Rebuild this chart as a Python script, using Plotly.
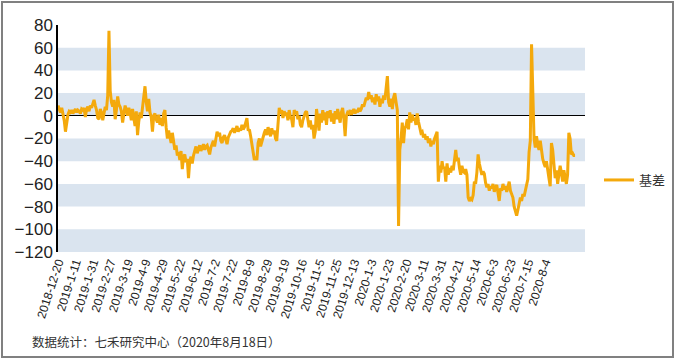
import plotly.graph_objects as go

# Tick labels (every 14th trading day)
tick_labels = ["2018-12-20", "2019-1-11", "2019-1-31", "2019-2-27", "2019-3-19", "2019-4-9",
               "2019-4-29", "2019-5-22", "2019-6-12", "2019-7-2", "2019-7-22", "2019-8-9",
               "2019-8-29", "2019-9-19", "2019-10-16", "2019-11-5", "2019-11-25", "2019-12-13",
               "2020-1-3", "2020-1-23", "2020-2-20", "2020-3-11", "2020-3-31", "2020-4-21",
               "2020-5-14", "2020-6-3", "2020-6-23", "2020-7-15", "2020-8-4"]
tick_step = 14

# 基差 values (one per trading day, 2018-12-20 .. 2020-8-18)
basis = [
    9, 6, 3, 7, 2, -4, -14, -6, 1, 4,
    3, 5, 2, 4, 6, 3, 5, 4, 2, 6,
    5, 7, -1, 6, 8, 4, 9, 7, 12, 14,
    9, 5, -2, -3, 6, 3, -4, 2, 8, 5,
    18, 75, 22, 12, 8, 14, -3, 5, 17, 10,
    8, 4, -6, 2, 9, 5, 0, 7, 3, -4,
    6, -2, -9, 4, -17, -5, 3, -2, 8, 13,
    26, 12, 4, 15, 3, -1, -14, 0, 2, -3,
    -6, 1, -8, -2, -9, 2, 5, -10, -20, -13,
    -18, -24, -15, -22, -30, -26, -35, -32, -39, -31,
    -47, -36, -34, -41, -38, -55, -40, -36, -42, -35,
    -30, -27, -33, -29, -26, -31, -28, -25, -30, -27,
    -26, -31, -34, -28, -25, -22, -27, -20, -14, -18,
    -15, -22, -24, -19, -17, -21, -25, -19, -16, -14,
    -13, -11, -15, -12, -9, -14, -11, -13, -8, -12,
    -10, -6, -2, -13, -12, -18, -25, -33, -39, -36,
    -39, -24, -20, -27, -22, -19, -15, -12, -17, -10,
    -14, -18, -11, -16, -13, -20, -22, -4, 7, 2,
    5, -2, 4, 0, 3, -4, 5, -1, -3, -10,
    5, 2, 4, -3, 0, -8, -10, -4, -1, 3,
    4, -5, -10, -4, -12, -8, -20, -14, 6, -3,
    -13, 2, -6, 5, -4, 3, -8, 4, -2, 5,
    -5, 2, -7, 4, -3, 6, -1, -6, 3, 7,
    -2, -18, 0, 3, 2, 5, 1, 4, 6, 2,
    5, 3, 7, 4, 6, 10, 8, 12, 16, 14,
    21, 15, 18, 12, 16, 10, 19, 13, 17, 8,
    15, 11, 18, 14, 24, 35, 12, 8, 15, 6,
    16, 20, 12, 5, -97, -30, -20, -6, -24, -11,
    -9, -3, -12, 3, -6, 1, -4, -2, -8, 2,
    -5, -9, -15, -14, -19, -16, -21, -18, -24, -20,
    -27, -22, -25, -20, -16, -14, -58, -44, -50, -40,
    -47, -45, -58, -42, -52, -46, -50, -44, -48, -36,
    -30, -40, -37, -46, -52, -44, -49, -50, -47, -52,
    -72, -75, -73, -74, -70, -58, -60, -50, -34, -42,
    -47, -52, -49, -51, -59, -63, -60, -66, -62, -64,
    -60, -67, -63, -61, -68, -75, -64, -66, -60, -65,
    -62, -67, -63, -58, -66, -70, -72, -80, -84, -88,
    -83, -78, -72, -75, -69, -71, -66, -58, -56, -32,
    -22, 63, 5, -20, -28, -18, -26, -30, -22, -33,
    -38, -42, -45, -40, -50, -55, -62, -24, -30, -46,
    -55, -48, -60, -52, -44, -50, -58, -48, -56, -60,
    -52, -15, -20, -34, -33, -35, -35,
]

series_name = "基差"
footnote = "数据统计：七禾研究中心（2020年8月18日）"
band_ranges = [(40, 60), (0, 20), (-40, -20), (-80, -60), (-120, -100)]

x_idx = list(range(len(basis)))
tickvals = [i * tick_step for i in range(len(tick_labels))]

W, H = 676, 361
ML, MR, MT, MB = 58, 91, 25, 109
pw, ph = W - ML - MR, H - MT - MB

fig = go.Figure()
fig.add_trace(go.Scatter(
    x=x_idx, y=basis, mode="lines", name=series_name,
    line=dict(color="#F4A90C", width=3),
))

shapes = []
for lo, hi in band_ranges:
    shapes.append(dict(type="rect", xref="paper", yref="y", x0=0, x1=1, y0=lo, y1=hi,
                       fillcolor="#DAE4EF", line=dict(width=0), layer="below"))
# outer border
shapes.append(dict(type="rect", xref="paper", yref="paper",
                   x0=(2 - ML) / pw, x1=(673 - ML) / pw,
                   y0=-(357 - (MT + ph)) / ph, y1=1 + (MT - 2) / ph,
                   line=dict(color="#808080", width=2), fillcolor="rgba(0,0,0,0)"))

fig.update_layout(
    width=W, height=H,
    margin=dict(l=ML, r=MR, t=MT, b=MB, autoexpand=False),
    paper_bgcolor="white", plot_bgcolor="white",
    font=dict(family="Liberation Sans, Arial, sans-serif", color="#222222"),
    shapes=shapes,
    showlegend=True,
    legend=dict(x=(599 - ML) / pw, y=(MT + ph - 180) / ph, xanchor="left", yanchor="middle",
                font=dict(size=13, color="#333333", family="Noto Sans CJK SC"),
                bgcolor="rgba(0,0,0,0)"),
    annotations=[dict(text=footnote, xref="paper", yref="paper",
                      x=(30 - ML) / pw, y=-(341 - (MT + ph)) / ph,
                      xanchor="left", yanchor="middle", showarrow=False,
                      font=dict(size=12.5, color="#333333", family="Noto Sans CJK SC"))],
)
fig.update_xaxes(
    range=[0, 424], tickmode="array", tickvals=tickvals, ticktext=tick_labels,
    tickangle=-72, tickfont=dict(size=12, color="#222222"), automargin=False,
    showgrid=False, zeroline=False, showline=False, ticks="",
)
fig.update_yaxes(
    range=[-120, 80], dtick=20, tick0=0, tickfont=dict(size=17, color="#222222"),
    automargin=False,
    showgrid=False, zeroline=True, zerolinecolor="#000000", zerolinewidth=1,
    showline=True, linecolor="#000000", linewidth=1.5, ticks="",
)

fig.write_html("out.html", config={"displayModeBar": False})

# remove the default page margin so the figure sits at the window's top-left corner
with open("out.html", "r", encoding="utf-8") as f:
    html = f.read()
html = html.replace("<head>", "<head><style>html,body{margin:0;padding:0;overflow:hidden;}</style>", 1)
with open("out.html", "w", encoding="utf-8") as f:
    f.write(html)
